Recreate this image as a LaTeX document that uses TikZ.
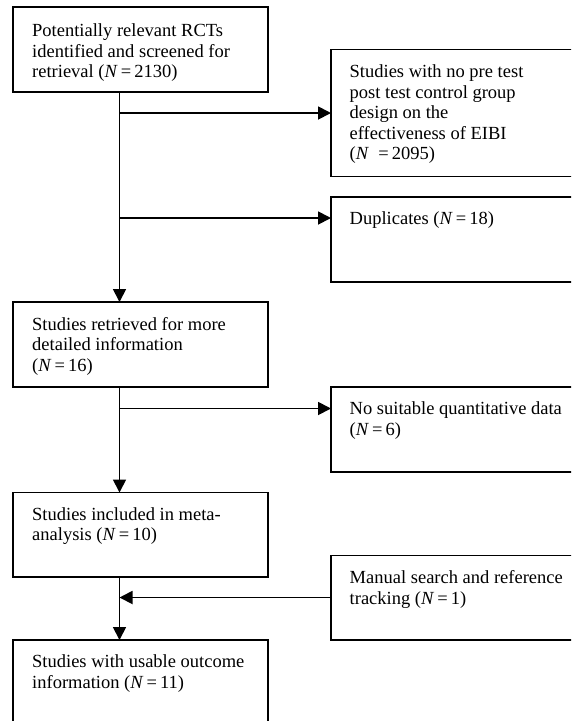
\documentclass[tikz,border=0pt]{standalone}
\usepackage{fontspec}
\setmainfont{Liberation Serif}
\usetikzlibrary{arrows.meta,calc}
\newcommand\boxtext[1]{\parbox[t]{300pt}{#1}}
\begin{document}
\begin{tikzpicture}[x=1pt,y=-1pt,
  box/.style={draw, line width=1.8pt, inner sep=0pt, outer sep=0pt, anchor=north west},
  lbox/.style={box, minimum width=255pt, minimum height=85pt},
  rbox/.style={box, minimum width=280pt, minimum height=85pt},
  txt/.style={anchor=base west, inner sep=0pt, font=\fontsize{18.5}{20.5}\selectfont},
  arr/.style={line width=1.8pt, -{Triangle[length=13pt,width=13pt]}}
]
\useasboundingbox (0,0) rectangle (571,721);
\clip (0,0) rectangle (571,721);
\fill[white] (0,0) rectangle (571,721);
% boxes
\node[lbox] (b1) at (13,7) {};
\node[rbox, minimum height=127pt] (b2) at (331,49.5) {};
\node[rbox] (b3) at (331,197) {};
\node[lbox] (b4) at (13,302) {};
\node[rbox] (b5) at (331,387) {};
\node[lbox, minimum height=84.5pt] (b6) at (13,492.5) {};
\node[rbox, minimum height=84.5pt] (b7) at (331,555.5) {};
\node[lbox] (b8) at (13,640) {};
% texts
\node[txt] (t1) at ($(b1.north west)+(19,29.5)$) {\boxtext{Potentially relevant RCTs\\identified and screened for\\retrieval (\textit{N}\,=\,2130)}};
\node[txt] (t2) at ($(b2.north west)+(18.5,28)$) {\boxtext{Studies with no pre test\\post test control group\\design on the\\effectiveness of EIBI\\(\textit{N}\ \ =\,2095)}};
\node[txt] (t3) at ($(b3.north west)+(18.5,27.5)$) {\boxtext{Duplicates (\textit{N}\,=\,18)}};
\node[txt] (t4) at ($(b4.north west)+(19,28)$) {\boxtext{Studies retrieved for more\\detailed information\\(\textit{N}\,=\,16)}};
\node[txt] (t5) at ($(b5.north west)+(18.5,27.5)$) {\boxtext{No suitable quantitative data\\(\textit{N}\,=\,6)}};
\node[txt] (t6) at ($(b6.north west)+(19,27.5)$) {\boxtext{Studies included in meta-\\analysis (\textit{N}\,=\,10)}};
\node[txt] (t7) at ($(b7.north west)+(18.5,28)$) {\boxtext{Manual search and reference\\tracking (\textit{N}\,=\,1)}};
\node[txt] (t8) at ($(b8.north west)+(19,27.5)$) {\boxtext{Studies with usable outcome\\information (\textit{N}\,=\,11)}};
% spine junctions
\coordinate (s1) at (119.5,113);
\coordinate (s2) at (119.5,218);
\coordinate (s3) at (119.5,408.5);
\coordinate (s4) at (119.5,597.5);
% connectors
\draw[arr] (b1.south -| s1) -- (b4.north -| s1);
\draw[arr] (s1) -- (s1 -| b2.west);
\draw[arr] (s2) -- (s2 -| b3.west);
\draw[arr] (b4.south -| s3) -- (b6.north -| s3);
\draw[arr] (s3) -- (s3 -| b5.west);
\draw[arr] (b6.south -| s4) -- (b8.north -| s4);
\draw[arr] (b7.west |- s4) -- (s4);
\end{tikzpicture}
\end{document}
